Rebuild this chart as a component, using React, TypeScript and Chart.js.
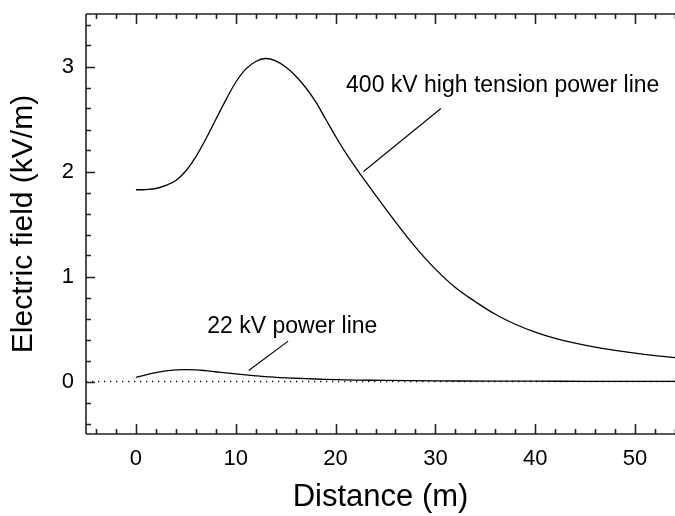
import React, { useEffect, useRef } from "react";
import { Chart, registerables } from "chart.js";

Chart.register(...registerables);

// ---- data ----
const distance400 = [0, 1, 2, 3, 4, 5, 6, 7, 8, 9, 10, 11, 12, 13, 14, 15, 16, 17, 18, 19, 20, 21, 22, 23, 24, 26, 28, 30, 32, 34, 36, 38, 40, 42, 44, 46, 48, 50, 52, 54];
const field400 = [1.826, 1.828, 1.838, 1.868, 1.915, 2.005, 2.14, 2.31, 2.495, 2.68, 2.85, 2.975, 3.048, 3.076, 3.053, 2.995, 2.91, 2.8, 2.665, 2.5, 2.335, 2.18, 2.04, 1.905, 1.775, 1.52, 1.28, 1.07, 0.895, 0.76, 0.64, 0.545, 0.47, 0.41, 0.365, 0.327, 0.297, 0.27, 0.247, 0.227];

const distance22 = [0, 1, 2, 3, 4, 5, 6, 7, 8, 9, 10, 11, 12, 13, 14, 15, 16, 18, 20, 22, 25, 30, 35, 40, 45, 50, 54];
const field22 = [0.04, 0.062, 0.085, 0.102, 0.111, 0.114, 0.111, 0.103, 0.093, 0.082, 0.072, 0.063, 0.054, 0.046, 0.04, 0.035, 0.031, 0.024, 0.018, 0.014, 0.01, 0.006, 0.004, 0.003, 0.002, 0.0015, 0.001];

const zeroLineX = [-5, 54];
const xTickValues = [0, 10, 20, 30, 40, 50];
const yTickValues = [0, 1, 2, 3];

// annotations (data coordinates)
const label400 = "400 kV high tension power line";
const label400Pos = [21.05, 2.82];
const leader400 = [[22.8, 2.0], [30.55, 2.6]];
const label22 = "22 kV power line";
const label22Pos = [7.15, 0.524];
const leader22 = [[11.3, 0.105], [15.25, 0.385]];

const FONT = "'Liberation Sans', Arial, Helvetica, sans-serif";
const AXIS_COLOR = "#222";

const framePlugin = {
  id: "frame",
  afterDatasetsDraw(chart: any) {
    const { ctx, chartArea, scales } = chart;
    const xs = scales.x;
    const ys = scales.y;
    const { left, right, top, bottom } = chartArea;
    ctx.save();
    ctx.strokeStyle = AXIS_COLOR;
    ctx.lineWidth = 1.6;
    ctx.beginPath();
    ctx.moveTo(left, top);
    ctx.lineTo(left, bottom);
    ctx.moveTo(left, bottom);
    ctx.lineTo(right, bottom);
    ctx.moveTo(left, top);
    ctx.lineTo(right, top);
    ctx.stroke();
    // y ticks every 0.2
    ctx.beginPath();
    for (let i = -2; i <= 17; i++) {
      const v = i / 5;
      const y = Math.round(ys.getPixelForValue(v)) + 0.5;
      const len = i % 5 === 0 ? 9 : 5;
      ctx.moveTo(left, y);
      ctx.lineTo(left + len, y);
    }
    // x ticks every 2
    for (let v = -4; v <= 54; v += 2) {
      const x = Math.round(xs.getPixelForValue(v)) + 0.5;
      const len = v % 10 === 0 ? 10 : 5;
      ctx.moveTo(x, bottom);
      ctx.lineTo(x, bottom - len);
      ctx.moveTo(x, top);
      ctx.lineTo(x, top + len);
    }
    ctx.stroke();

    // annotations
    ctx.strokeStyle = "#000";
    ctx.lineWidth = 1.1;
    ctx.beginPath();
    for (const seg of [leader400, leader22]) {
      ctx.moveTo(xs.getPixelForValue(seg[0][0]), ys.getPixelForValue(seg[0][1]));
      ctx.lineTo(xs.getPixelForValue(seg[1][0]), ys.getPixelForValue(seg[1][1]));
    }
    ctx.stroke();
    ctx.fillStyle = "#000";
    ctx.font = `23px ${FONT}`;
    ctx.textAlign = "left";
    ctx.textBaseline = "middle";
    ctx.fillText(label400, xs.getPixelForValue(label400Pos[0]), ys.getPixelForValue(label400Pos[1]));
    ctx.fillText(label22, xs.getPixelForValue(label22Pos[0]), ys.getPixelForValue(label22Pos[1]));
    ctx.restore();
  },
};

export default function App() {
  const ref = useRef<HTMLCanvasElement | null>(null);
  useEffect(() => {
    document.body.style.margin = "0";
    const canvas = ref.current!;
    const chart = new Chart(canvas, {
      type: "line",
      data: {
        datasets: [
          {
            data: zeroLineX.map((x) => ({ x, y: 0 })),
            borderColor: "#111",
            borderWidth: 1.5,
            borderDash: [1.3, 4.7],
            pointRadius: 0,
            tension: 0,
          },
          {
            data: distance400.map((x, i) => ({ x, y: field400[i] })),
            borderColor: "#000",
            borderWidth: 1.3,
            pointRadius: 0,
            tension: 0.4,
          },
          {
            data: distance22.map((x, i) => ({ x, y: field22[i] })),
            borderColor: "#000",
            borderWidth: 1.3,
            pointRadius: 0,
            tension: 0.4,
          },
        ],
      },
      options: {
        animation: false,
        responsive: false,
        maintainAspectRatio: false,
        layout: { padding: { top: 14, right: 0, left: 0, bottom: 0 } },
        plugins: { legend: { display: false }, tooltip: { enabled: false } },
        scales: {
          x: {
            type: "linear",
            min: -5,
            max: 54,
            grid: { display: false, drawTicks: false },
            border: { display: false },
            afterBuildTicks: (s: any) => {
              s.ticks = xTickValues.map((v) => ({ value: v }));
            },
            afterFit: (s: any) => {
              s.height = 82;
              s.paddingLeft = 0;
              s.paddingRight = 0;
            },
            ticks: {
              color: "#000",
              padding: 12,
              maxRotation: 0,
              autoSkip: false,
              font: { family: FONT, size: 22 },
            },
            title: {
              display: true,
              text: "Distance (m)",
              color: "#000",
              padding: { top: 0, bottom: 0 },
              font: { family: FONT, size: 31 },
            },
          },
          y: {
            type: "linear",
            min: -0.5,
            max: 3.5,
            grid: { display: false, drawTicks: false },
            border: { display: false },
            afterBuildTicks: (s: any) => {
              s.ticks = yTickValues.map((v) => ({ value: v }));
            },
            afterFit: (s: any) => {
              s.width = 86;
              s.paddingTop = 0;
              s.paddingBottom = 0;
            },
            ticks: {
              color: "#000",
              padding: 12,
              autoSkip: false,
              font: { family: FONT, size: 22 },
            },
            title: {
              display: true,
              text: "Electric field (kV/m)",
              color: "#000",
              padding: { top: 6, bottom: 0 },
              font: { family: FONT, size: 30 },
            },
          },
        },
      },
      plugins: [framePlugin],
    } as any);
    return () => chart.destroy();
  }, []);
  return (
    <div style={{ position: "fixed", left: 0, top: 0, width: 675, height: 516, background: "#fff" }}>
      <canvas ref={ref} width={675} height={516} />
    </div>
  );
}
